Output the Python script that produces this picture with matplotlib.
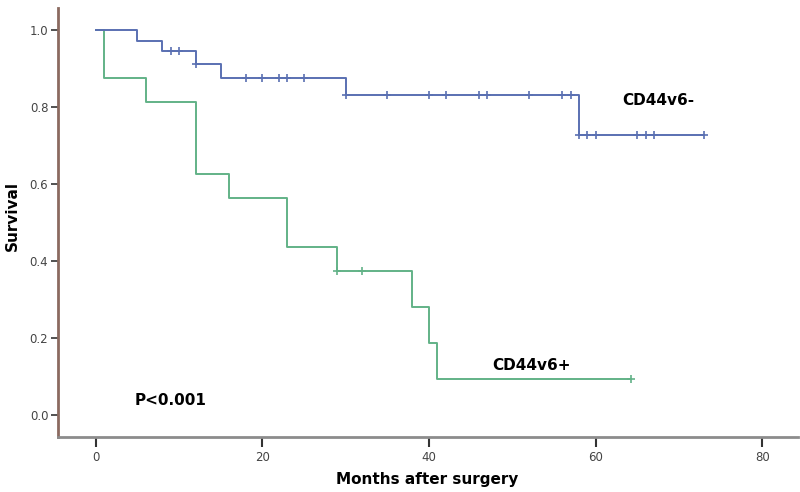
import matplotlib
matplotlib.use("Agg")
import matplotlib.pyplot as plt
import numpy as np

# CD44v6- (blue)
neg_event_times = [0, 5, 8, 12, 15, 30, 58, 73]
neg_surv = [1.0, 0.972, 0.944, 0.911, 0.875, 0.831, 0.727, 0.727]
neg_cens_times = [9, 10, 12, 18, 20, 22, 23, 25, 30, 35, 40, 42, 46, 47, 52, 56, 57, 58, 59, 60, 65, 66, 67, 73]

# CD44v6+ (green)
pos_event_times = [0, 1, 6, 12, 16, 23, 29, 38, 40, 41, 64.2]
pos_surv = [1.0, 0.875, 0.8125, 0.625, 0.5625, 0.4375, 0.375, 0.281, 0.1875, 0.094, 0.094]
pos_cens_times = [29, 32, 64.2]

x_ticks = [0, 20, 40, 60, 80]
y_ticks = [0.0, 0.2, 0.4, 0.6, 0.8, 1.0]

blue = "#5a70b2"
green = "#62b287"

def surv_at(times, surv, t):
    s = surv[0]
    for ti, si in zip(times, surv):
        if ti <= t:
            s = si
    return s

fig = plt.figure(figsize=(8, 4.92), dpi=100)
ax = fig.add_axes([0.0725, 0.1118, 0.925, 0.872])

ax.step(pos_event_times, pos_surv, where="post", color=green, lw=1.4, zorder=2)
ax.step(neg_event_times, neg_surv, where="post", color=blue, lw=1.4, zorder=3)
ax.plot(neg_cens_times, [surv_at(neg_event_times, neg_surv, t) for t in neg_cens_times],
        linestyle="none", marker="+", ms=6, mew=1.2, color=blue, zorder=4)
ax.plot(pos_cens_times, [surv_at(pos_event_times, pos_surv, t) for t in pos_cens_times],
        linestyle="none", marker="+", ms=6, mew=1.2, color=green, zorder=4)

ax.set_xlim(-4.5, 84.3)
ax.set_ylim(-0.057, 1.057)
ax.set_xticks(x_ticks)
ax.set_yticks(y_ticks)
ax.set_xticklabels([str(v) for v in x_ticks])
ax.set_yticklabels([f"{v:.1f}" for v in y_ticks])

for s in ["top", "right"]:
    ax.spines[s].set_visible(False)
ax.spines["left"].set_color("#8b6a60")
ax.spines["left"].set_linewidth(2)
ax.spines["bottom"].set_color("#8c8c8c")
ax.spines["bottom"].set_linewidth(2)
ax.tick_params(axis="y", length=5, width=1.2, color="#333333", labelsize=8.5, labelcolor="#444444", pad=2)
ax.tick_params(axis="x", length=7, width=1.5, color="#333333", labelsize=8.5, labelcolor="#444444", pad=3)

ax.set_xlabel("Months after surgery", fontsize=11, fontweight="bold", va="center")
ax.xaxis.set_label_coords(0.499, -0.1)
ax.set_ylabel("Survival", fontsize=11, fontweight="bold", va="center")
ax.yaxis.set_label_coords(-0.062, 0.515)

ax.text(67.5, 0.818, "CD44v6-", fontsize=11, fontweight="bold", ha="center", va="center")
ax.text(52.3, 0.128, "CD44v6+", fontsize=11, fontweight="bold", ha="center", va="center")
ax.text(9.0, 0.037, "P<0.001", fontsize=11, fontweight="bold", ha="center", va="center")

fig.savefig("out.png", dpi=100)
